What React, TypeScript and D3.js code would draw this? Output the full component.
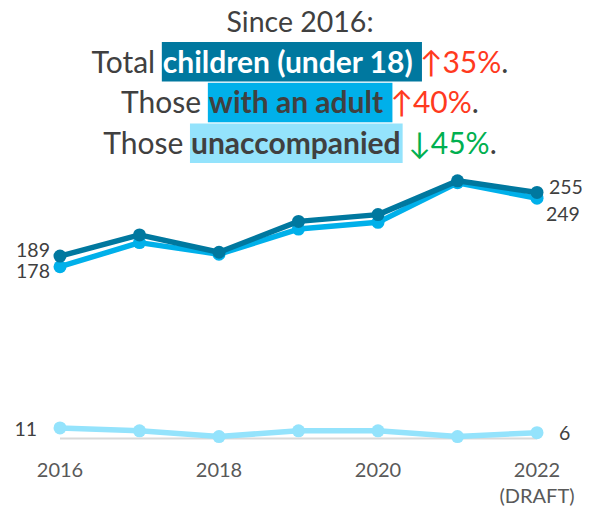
import React, { useEffect, useRef } from "react";
import * as d3 from "d3";

const years = [2016, 2017, 2018, 2019, 2020, 2021, 2022];
const totalChildren = [189, 211, 193, 225, 232, 267, 255];
const withAdult = [178, 203, 191, 217, 224, 265, 249];
const unaccompanied = [11, 8, 2, 8, 8, 2, 6];
const tickYears = [2016, 2018, 2020, 2022];

const C_TOTAL = "#00789f";
const C_ADULT = "#00b0ea";
const C_UNACC = "#94e3fc";
const C_TEXT = "#404040";
const C_TICK = "#595959";
const C_RED = "#ff3a1e";
const C_GREEN = "#00b050";
const FONT = "Lato, 'Open Sans', sans-serif";

type Seg = { t: string; bold?: boolean; fill: string; box?: string };
const titleLines: Seg[][] = [
  [{ t: "Since 2016:", fill: C_TEXT }],
  [
    { t: "Total ", fill: C_TEXT },
    { t: "children (under 18) ", bold: true, fill: "#ffffff", box: C_TOTAL },
    { t: "↑35%", fill: C_RED },
    { t: ".", fill: C_TEXT },
  ],
  [
    { t: "Those ", fill: C_TEXT },
    { t: "with an adult ", bold: true, fill: C_TEXT, box: C_ADULT },
    { t: "↑40%", fill: C_RED },
    { t: ".", fill: C_TEXT },
  ],
  [
    { t: "Those ", fill: C_TEXT },
    { t: "unaccompanied", bold: true, fill: C_TEXT, box: C_UNACC },
    { t: " ↓45%", fill: C_GREEN },
    { t: ".", fill: C_TEXT },
  ],
];
const titleSizes = [28.5, 30, 30, 30];

export default function App() {
  const ref = useRef<SVGSVGElement>(null);

  useEffect(() => {
    const svg = d3.select(ref.current);
    svg.selectAll("*").remove();

    const x = d3.scaleLinear().domain([2016, 2022]).range([60, 537]);
    const y = d3.scaleLinear().domain([0, 280]).range([438.5, 438.5 - 280 * 0.965]);

    // title
    const tg = svg.append("g");
    const cx = 300;
    const baselines = [31.5, 72.5, 113.3, 154];
    titleLines.forEach((line, i) => {
      const lg = tg.append("g");
      const txt = lg
        .append("text")
        .attr("y", baselines[i])
        .attr("font-family", FONT)
        .attr("font-size", titleSizes[i])
        .style("white-space", "pre");
      const spans = line.map((s) =>
        txt
          .append("tspan")
          .text(s.t)
          .attr("fill", s.fill)
          .attr("font-weight", s.bold ? 700 : 400)
      );
      const widths = spans.map((sp) => (sp.node() as SVGTSpanElement).getComputedTextLength());
      const total = d3.sum(widths);
      const start = cx - total / 2;
      txt.attr("x", start);
      let acc = start;
      line.forEach((s, k) => {
        if (s.box) {
          lg.insert("rect", "text")
            .attr("x", acc - 1)
            .attr("y", baselines[i] - 30.5)
            .attr("width", widths[k] + 3)
            .attr("height", 39.5)
            .attr("fill", s.box);
        }
        acc += widths[k];
      });
    });

    // baseline
    svg
      .append("line")
      .attr("x1", x(2016))
      .attr("x2", x(2022))
      .attr("y1", y(0))
      .attr("y2", y(0))
      .attr("stroke", "#d9d9d9")
      .attr("stroke-width", 2);

    const drawSeries = (vals: number[], color: string) => {
      const line = d3
        .line<number>()
        .x((_, i) => x(years[i]))
        .y((d) => y(d));
      svg
        .append("path")
        .attr("d", line(vals))
        .attr("fill", "none")
        .attr("stroke", color)
        .attr("stroke-width", 5.5)
        .attr("stroke-linejoin", "round");
      svg
        .append("g")
        .selectAll("circle")
        .data(vals)
        .join("circle")
        .attr("cx", (_, i) => x(years[i]))
        .attr("cy", (d) => y(d))
        .attr("r", 6.5)
        .attr("fill", color);
    };
    drawSeries(unaccompanied, C_UNACC);
    drawSeries(withAdult, C_ADULT);
    drawSeries(totalChildren, C_TOTAL);

    const label = (t: string, lx: number, ly: number, anchor: string) =>
      svg
        .append("text")
        .attr("x", lx)
        .attr("y", ly)
        .attr("text-anchor", anchor)
        .attr("font-family", FONT)
        .attr("font-size", 19.5)
        .attr("fill", C_TEXT)
        .text(t);

    const n = years.length - 1;
    label(String(totalChildren[0]), x(years[0]) - 10, y(totalChildren[0]) + 1, "end");
    label(String(withAdult[0]), x(years[0]) - 10, y(withAdult[0]) + 11.5, "end");
    label(String(unaccompanied[0]), x(years[0]) - 23, y(unaccompanied[0]) + 8, "end");
    label(String(totalChildren[n]), x(years[n]) + 12, y(totalChildren[n]) + 2, "start");
    label(String(withAdult[n]), x(years[n]) + 9, y(withAdult[n]) + 23, "start");
    label(String(unaccompanied[n]), x(years[n]) + 22, y(unaccompanied[n]) + 7.5, "start");

    // x ticks
    const ticks = svg.append("g");
    tickYears.forEach((yr) => {
      ticks
        .append("text")
        .attr("x", x(yr))
        .attr("y", 476.5)
        .attr("text-anchor", "middle")
        .attr("font-family", FONT)
        .attr("font-size", 20)
        .attr("fill", C_TICK)
        .text(String(yr));
    });
    ticks
      .append("text")
      .attr("x", x(2022))
      .attr("y", 503)
      .attr("text-anchor", "middle")
      .attr("font-family", FONT)
      .attr("font-size", 20)
      .attr("fill", C_TICK)
      .text("(DRAFT)");
  }, []);

  return (
    <svg
      ref={ref}
      width={594}
      height={510}
      style={{ position: "absolute", left: 0, top: 0, background: "#fff" }}
    />
  );
}
